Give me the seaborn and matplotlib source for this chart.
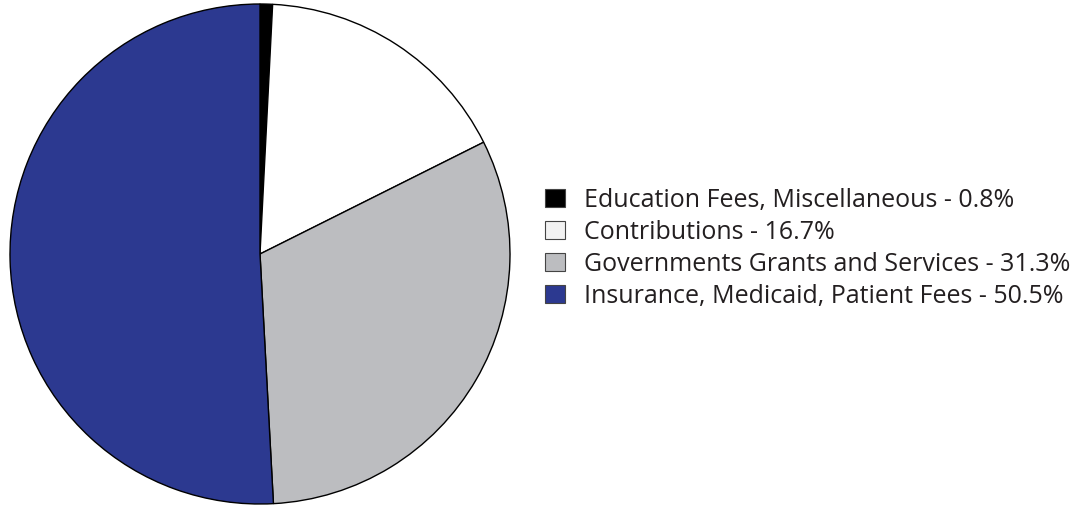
import matplotlib
matplotlib.use("Agg")
import matplotlib.pyplot as plt
import seaborn as sns
from matplotlib.patches import Patch

# data
labels = ["Education Fees, Miscellaneous", "Contributions",
          "Governments Grants and Services", "Insurance, Medicaid, Patient Fees"]
shares = [0.8, 16.7, 31.3, 50.5]
colors = ["#000000", "#ffffff", "#bcbdc0", "#2c3990"]
legend_colors = ["#000000", "#f2f2f2", "#bcbdc0", "#2c3990"]

sns.set_theme(style="white")
plt.rcParams['font.family'] = ['Open Sans', 'DejaVu Sans']

fig = plt.figure(figsize=(10.85, 5.08), dpi=100)
W, H = 1085, 508

# pie (clockwise from 12 o'clock)
ax = fig.add_axes([9 / W, 3 / H, 502 / W, 502 / H])
ax.pie(shares, colors=colors, startangle=90, counterclock=False,
       wedgeprops=dict(edgecolor="black", linewidth=1.0))
ax.set_xlim(-1.004, 1.004)
ax.set_ylim(-1.004, 1.004)
ax.set_aspect("equal")

# legend
handles = [Patch(facecolor=c, edgecolor="#444444", linewidth=0.8) for c in legend_colors]
texts = [f"{l} - {s}%" for l, s in zip(labels, shares)]
fig.legend(handles, texts, loc="upper left", bbox_to_anchor=(545 / W, 1 - 188 / H),
           frameon=False, fontsize=18, handlelength=0.8, handleheight=0.75,
           handletextpad=0.75, labelspacing=0.28, borderpad=0, borderaxespad=0,
           labelcolor="#231f20")

fig.savefig("out.png", dpi=100)
